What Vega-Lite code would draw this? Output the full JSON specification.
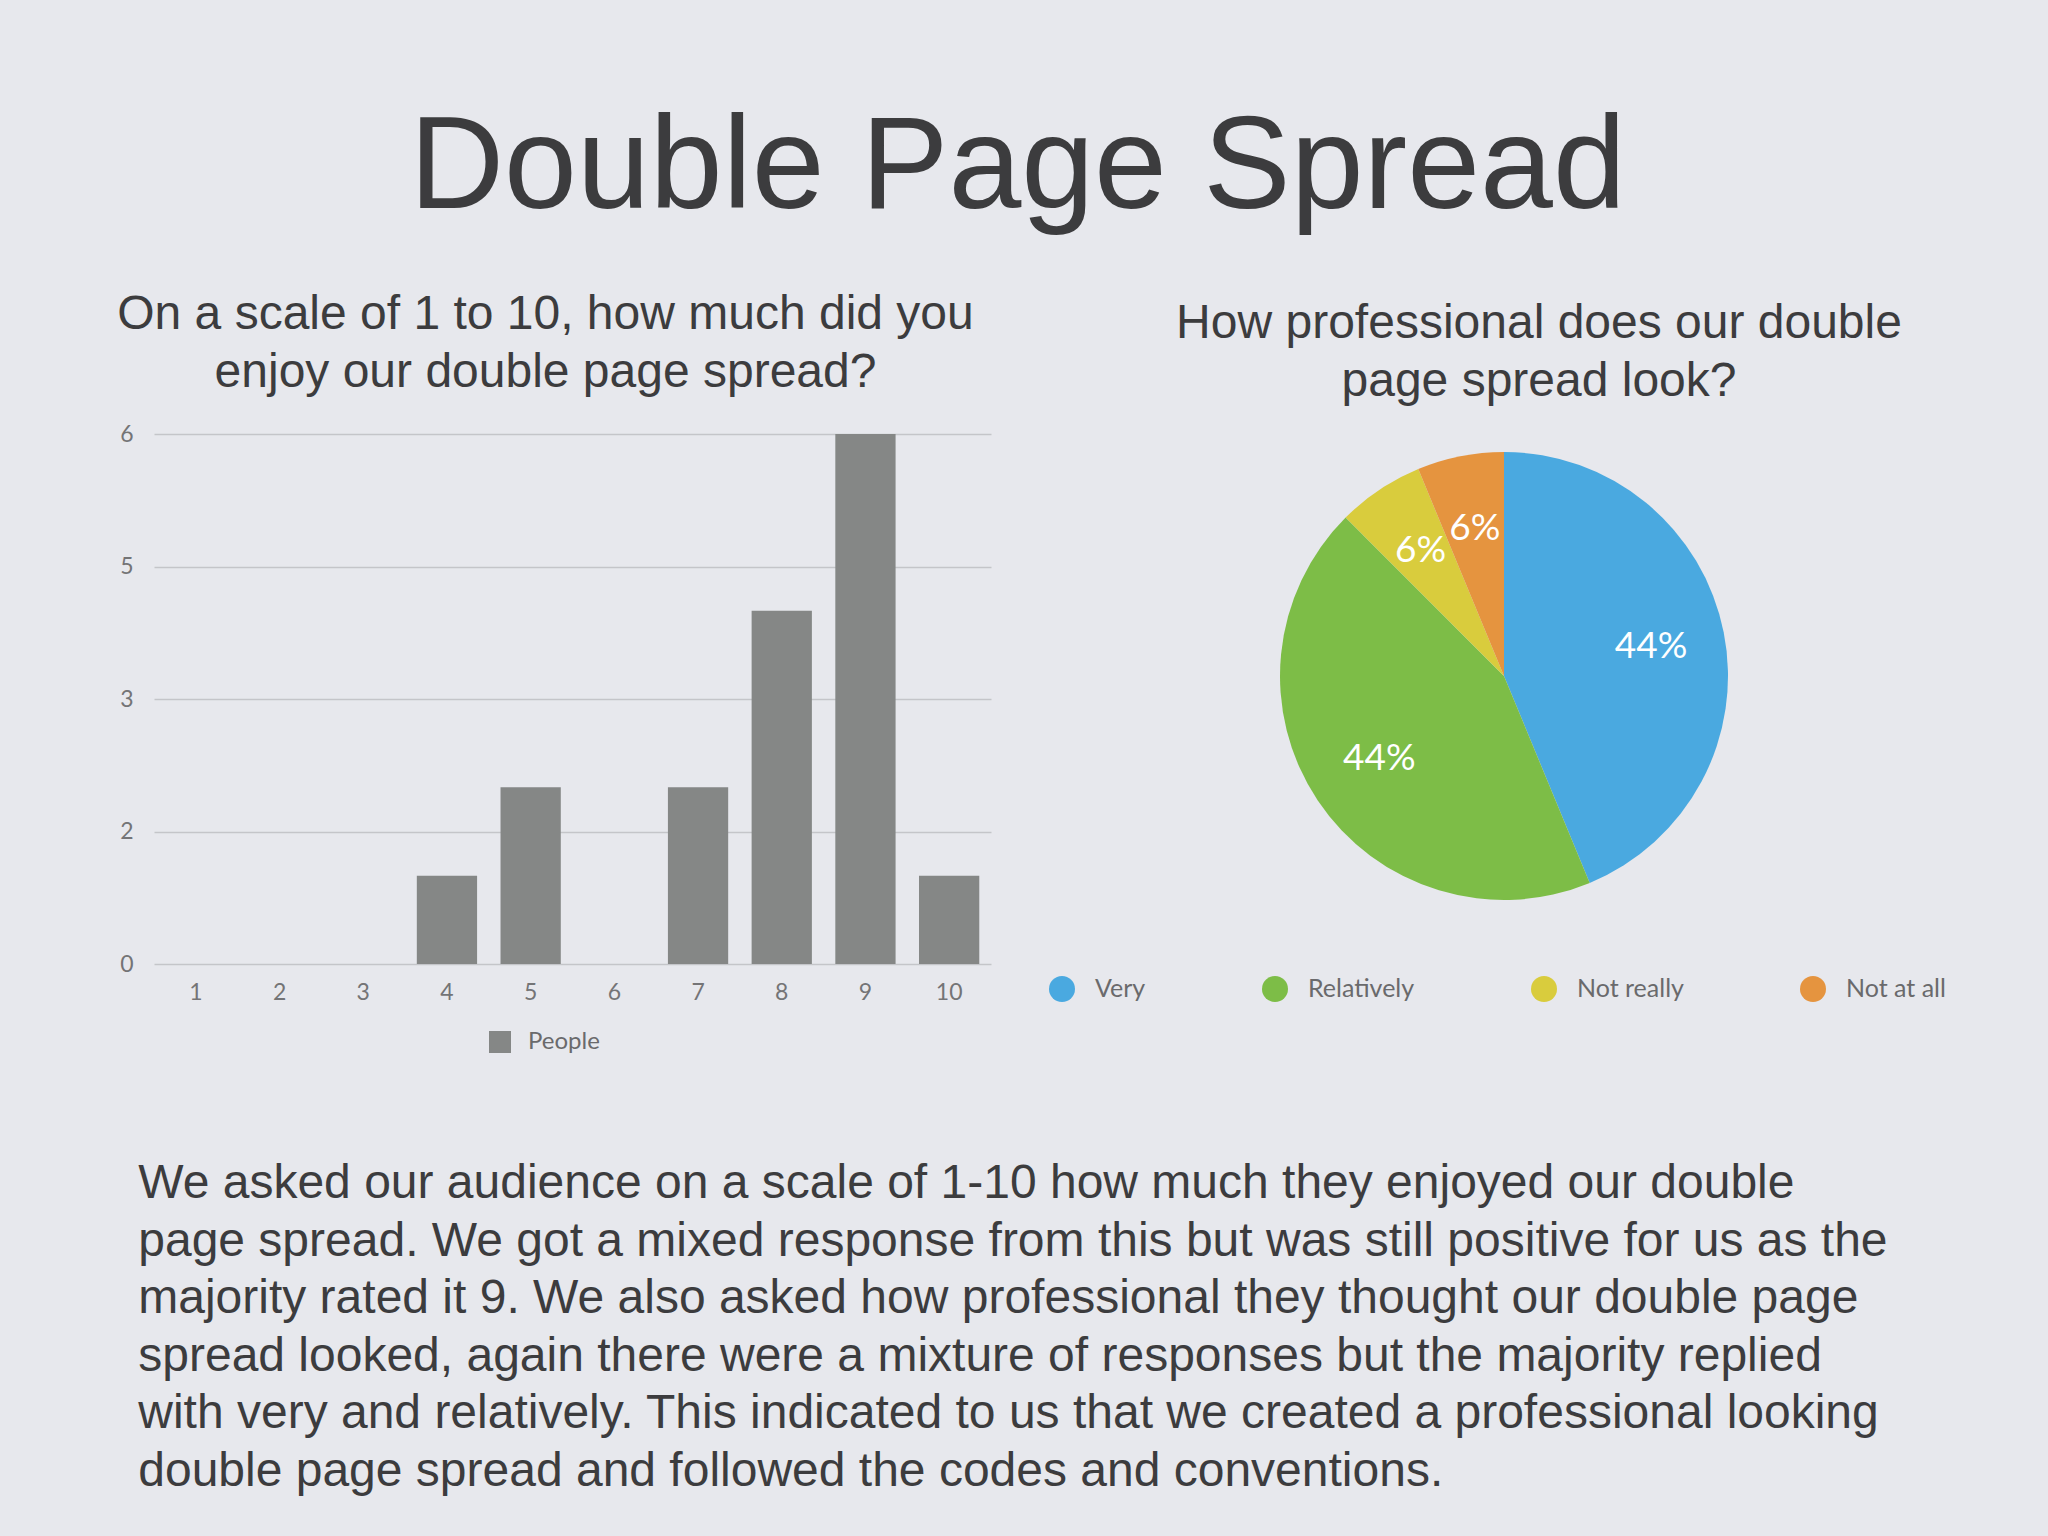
{
  "$schema": "https://vega.github.io/schema/vega-lite/v6.json",
  "background": "#e7e8ed",
  "padding": {"left": 117, "top": 103, "right": 110, "bottom": 90},
  "title": {
    "text": "Double Page Spread",
    "font": "Liberation Sans",
    "fontSize": 131,
    "fontWeight": "normal",
    "color": "#3c3c3e",
    "anchor": "middle",
    "offset": 55,
    "dx": -14
  },
  "vconcat": [
    {
      "hconcat": [
        {
          "width": 837,
          "height": 530,
          "title": {
            "text": ["On a scale of 1 to 10, how much did you", "enjoy our double page spread?"],
            "font": "Liberation Sans",
            "fontSize": 48,
            "lineHeight": 58,
            "fontWeight": "normal",
            "color": "#3c3c3e",
            "anchor": "middle",
            "offset": 26,
            "dx": -27
          },
          "data": {
            "values": [
              {"rating": "1", "people": 0},
              {"rating": "2", "people": 0},
              {"rating": "3", "people": 0},
              {"rating": "4", "people": 1},
              {"rating": "5", "people": 2},
              {"rating": "6", "people": 0},
              {"rating": "7", "people": 2},
              {"rating": "8", "people": 4},
              {"rating": "9", "people": 6},
              {"rating": "10", "people": 1}
            ]
          },
          "mark": {"type": "bar", "color": "#858786"},
          "encoding": {
            "x": {
              "field": "rating",
              "type": "ordinal",
              "sort": null,
              "scale": {"paddingInner": 0.28, "paddingOuter": 0.14},
              "axis": {
                "title": null,
                "labelAngle": 0,
                "domain": false,
                "ticks": false,
                "grid": false,
                "labelPadding": 17,
                "labelFont": "Lato",
                "labelFontSize": 23,
                "labelColor": "#747476"
              }
            },
            "y": {
              "field": "people",
              "type": "quantitative",
              "scale": {"domain": [0, 6]},
              "axis": {
                "title": null,
                "values": [0, 1.5, 3, 4.5, 6],
                "format": ".0f",
                "domain": false,
                "ticks": false,
                "labelPadding": 21,
                "labelFont": "Lato",
                "labelFontSize": 23,
                "labelColor": "#747476",
                "gridColor": "#c4c5c9",
                "gridWidth": 1.5
              }
            },
            "color": {
              "datum": "People",
              "scale": {"range": ["#858786"]},
              "legend": {
                "title": null,
                "orient": "none",
                "legendX": 334,
                "legendY": 596,
                "symbolType": "square",
                "symbolSize": 484,
                "symbolStrokeWidth": 0,
                "labelFont": "Lato",
                "labelFontSize": 24,
                "labelColor": "#6a6a6c",
                "labelOffset": 16
              }
            }
          }
        },
        {
          "width": 448,
          "height": 484,
          "title": {
            "text": ["How professional does our double", "page spread look?"],
            "font": "Liberation Sans",
            "fontSize": 48,
            "lineHeight": 58,
            "fontWeight": "normal",
            "color": "#3c3c3e",
            "anchor": "middle",
            "offset": 28,
            "dx": 35
          },
          "data": {
            "values": [
              {"answer": "Very", "count": 7, "label": "44%", "order": 1},
              {"answer": "Relatively", "count": 7, "label": "44%", "order": 2},
              {"answer": "Not really", "count": 1, "label": "6%", "order": 3},
              {"answer": "Not at all", "count": 1, "label": "6%", "order": 4}
            ]
          },
          "encoding": {
            "theta": {"field": "count", "type": "quantitative", "stack": true},
            "order": {"field": "order", "type": "quantitative"}
          },
          "layer": [
            {
              "mark": {"type": "arc", "radius": 224},
              "encoding": {
                "color": {
                  "field": "answer",
                  "type": "nominal",
                  "sort": null,
                  "scale": {
                    "domain": ["Very", "Relatively", "Not really", "Not at all"],
                    "range": ["#4aa9e0", "#7dbd47", "#d9cc3d", "#e5943f"]
                  },
                  "legend": {
                    "title": null,
                    "orient": "none",
                    "legendX": -231,
                    "legendY": 542,
                    "direction": "horizontal",
                    "symbolType": "circle",
                    "symbolSize": 676,
                    "symbolStrokeWidth": 0,
                    "labelFont": "Lato",
                    "labelFontSize": 25,
                    "labelColor": "#6a6a6c",
                    "labelOffset": 20,
                    "columnPadding": 116
                  }
                }
              }
            },
            {
              "mark": {"type": "text", "radius": 150, "font": "Lato", "fontSize": 37, "color": "#ffffff"},
              "encoding": {"text": {"field": "label", "type": "nominal"}}
            }
          ]
        }
      ],
      "spacing": 289,
      "bounds": "flush",
      "resolve": {"scale": {"color": "independent"}, "legend": {"color": "independent"}},
      "title": {
        "text": [
          "We asked our audience on a scale of 1-10 how much they enjoyed our double",
          "page spread. We got a mixed response from this but was still positive for us as the",
          "majority rated it 9. We also asked how professional they thought our double page",
          "spread looked, again there were a mixture of responses but the majority replied",
          "with very and relatively. This indicated to us that we created a professional looking",
          "double page spread and followed the codes and conventions."
        ],
        "orient": "bottom",
        "anchor": "start",
        "font": "Liberation Sans",
        "fontSize": 48,
        "lineHeight": 57.5,
        "fontWeight": "normal",
        "color": "#3c3c3e",
        "offset": 106,
        "dx": 21
      }
    }
  ],
  "config": {"view": {"stroke": null}}
}
